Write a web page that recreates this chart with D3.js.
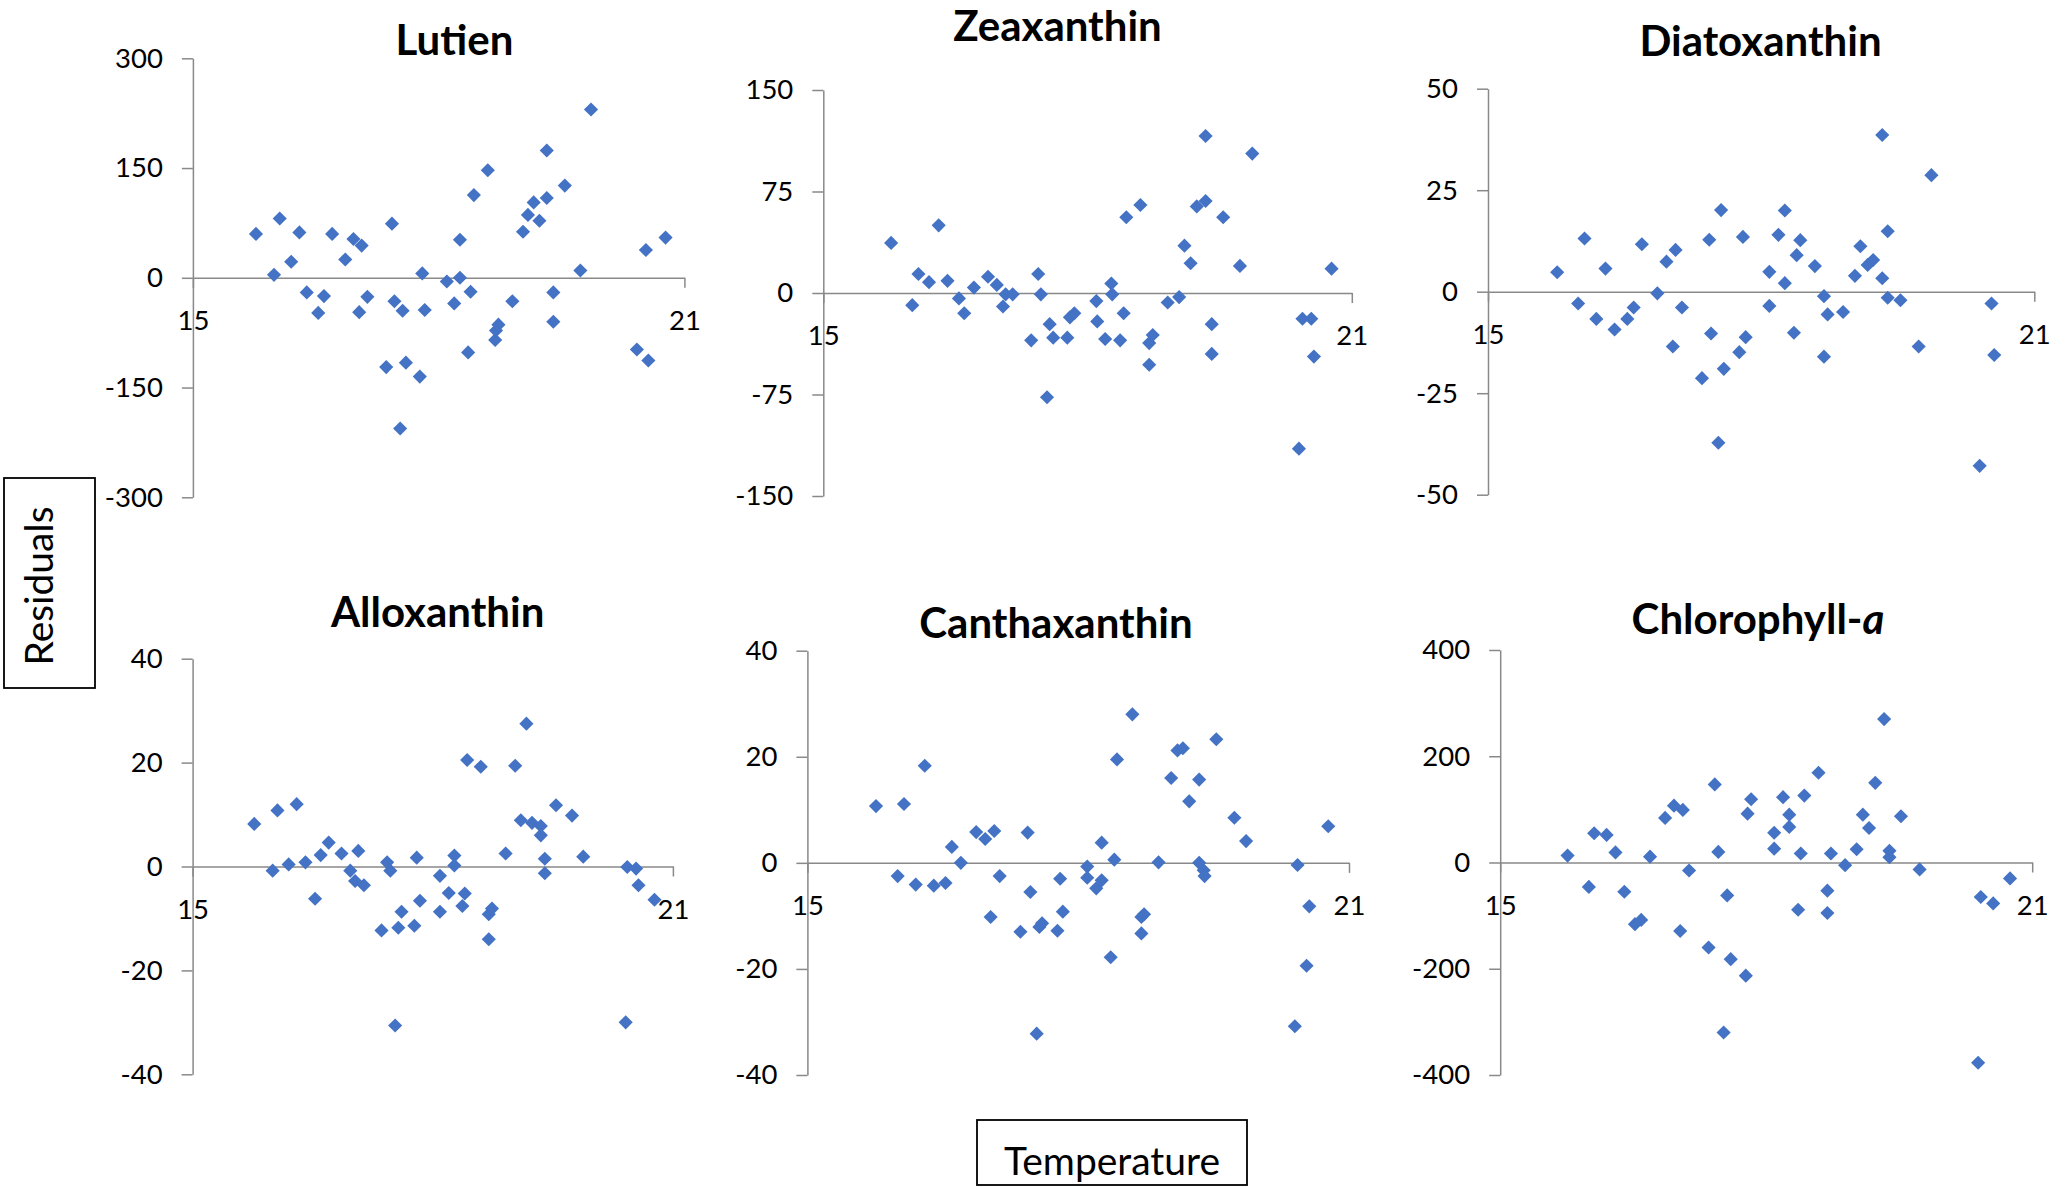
<!DOCTYPE html>
<html>
<head>
<meta charset="utf-8">
<script src="https://cdn.jsdelivr.net/npm/d3@7"></script>
<style>
  html, body { margin: 0; padding: 0; background: #ffffff; }
  svg { display: block; }
</style>
</head>
<body>
<svg id="chart" width="2067" height="1187"></svg>
<script>
// ---------------- DATA ----------------
const panelTitles = ["Lutien", "Zeaxanthin", "Diatoxanthin", "Alloxanthin", "Canthaxanthin", "Chlorophyll-"];
const xTickLabels = [15, 21];
const xAxisTitle = "Temperature";
const yAxisTitle = "Residuals";

const lutienTicks = [-300, -150, 0, 150, 300];
const zeaxanthinTicks = [-150, -75, 0, 75, 150];
const diatoxanthinTicks = [-50, -25, 0, 25, 50];
const alloxanthinTicks = [-40, -20, 0, 20, 40];
const canthaxanthinTicks = [-40, -20, 0, 20, 40];
const chlorophyllTicks = [-400, -200, 0, 200, 400];

const lutienT = [15.77,15.99,16.06,16.20,16.30,16.39,16.53,16.60,16.70,16.86,16.96,17.03,17.06,17.13,17.36,17.43,17.46,17.53,17.56,17.60,17.77,17.80,17.83,18.10,18.19,18.26,18.26,18.36,18.39,18.43,18.60,18.69,18.70,18.73,18.90,19.03,19.09,19.16,19.23,19.32,19.32,19.40,19.40,19.54,19.73,19.86,20.42,20.53,20.56,20.77];
const lutienR = [60,4,81,22,62,-20,-48,-25,60,25,53,-47,44,-26,-122,74,-32,-206,-45,-116,-135,6,-44,-5,-35,52,0,-102,-19,113,147,-85,-72,-64,-32,63,86,103,78,109,174,-20,-60,126,10,230,-98,38,-113,55];

const zeaxanthinT = [15.77,16.01,16.08,16.20,16.31,16.41,16.54,16.60,16.71,16.87,16.97,17.04,17.07,17.15,17.36,17.44,17.47,17.54,17.57,17.61,17.77,17.80,17.85,18.10,18.11,18.20,18.27,18.28,18.37,18.41,18.44,18.60,18.70,18.74,18.70,18.91,19.04,19.10,19.17,19.24,19.34,19.34,19.41,19.41,19.54,19.73,19.87,20.40,20.44,20.54,20.57,20.77];
const zeaxanthinR = [37,-9,14,8,50,9,-4,-15,4,12,6,-10,-1,-1,-35,14,-1,-77,-23,-33,-33,-18,-15,-6,-21,-34,7,-1,-35,-15,56,65,-37,-31,-53,-7,-3,35,22,64,68,116,-23,-45,56,20,103,-115,-19,-19,-47,18];

const diatoxanthinT = [15.76,15.99,16.06,16.19,16.29,16.39,16.53,16.60,16.69,16.86,16.96,17.03,17.06,17.13,17.35,17.43,17.45,17.53,17.56,17.59,17.76,17.80,17.83,18.09,18.09,18.19,18.26,18.26,18.36,18.39,18.43,18.59,18.69,18.69,18.73,18.90,19.03,19.09,19.17,19.23,19.33,19.33,19.39,19.39,19.53,19.73,19.87,20.40,20.53,20.56];
const diatoxanthinR = [4.8,-2.9,13.1,-6.7,5.7,-9.3,-6.7,-3.9,11.7,-0.4,7.4,-13.5,10.3,-3.9,-21.3,12.8,-10.3,-37.2,20.1,-19,-14.9,13.5,-11.2,4.9,-3.5,14,20,2.1,-10.1,9,12.7,6.3,-1.1,-16,-5.6,-5,3.9,11.2,6.6,7.8,3.3,38.6,-1.5,14.9,-2.1,-13.5,28.7,-42.9,-2.9,-15.6];

const alloxanthinT = [15.77,16.00,16.06,16.20,16.30,16.41,16.53,16.60,16.70,16.86,16.97,17.03,17.07,17.14,17.36,17.43,17.47,17.53,17.57,17.61,17.77,17.80,17.84,18.09,18.09,18.20,18.27,18.27,18.37,18.40,18.43,18.60,18.70,18.74,18.70,18.91,19.03,19.10,19.17,19.24,19.35,19.35,19.40,19.40,19.54,19.74,19.88,20.41,20.43,20.54,20.57,20.77];
const alloxanthinR = [8.2,-0.8,10.8,0.4,12,0.8,-6.2,2.2,4.6,2.5,-0.8,-2.8,3,-3.6,-12.3,0.8,-0.8,-30.6,-11.8,-8.7,-11.4,1.7,-6.6,-1.8,-8.7,-5.1,2.1,0.2,-7.6,-5.2,20.5,19.2,-9.2,-8.1,-14,2.5,19.4,8.9,27.5,8.4,7.8,6,1.5,-1.3,11.8,9.8,1.9,-30,-0.1,-0.4,-3.6,-6.4];

const canthaxanthinT = [15.76,16.00,16.07,16.20,16.30,16.40,16.53,16.60,16.70,16.87,16.97,17.03,17.07,17.13,17.36,17.44,17.47,17.54,17.57,17.60,17.77,17.80,17.83,18.10,18.10,18.20,18.26,18.26,18.36,18.40,18.43,18.60,18.70,18.70,18.73,18.89,19.03,19.10,19.16,19.23,19.34,19.34,19.39,19.40,19.53,19.73,19.86,20.40,20.43,20.53,20.56,20.77];
const canthaxanthinR = [10.7,-2.5,11.1,-4.1,18.3,-4.3,-3.8,3,0,5.8,4.5,-10.2,6,-2.5,-13,5.7,-5.5,-32.2,-12.1,-11.4,-12.8,-3,-9.2,-0.7,-2.8,-4.8,3.8,-3.3,-17.8,0.6,19.5,28,-13.3,-10.2,-9.7,0.1,16,21.2,21.6,11.6,15.7,0,-1.4,-2.5,23.3,8.5,4.1,-30.8,-0.4,-19.4,-8.2,6.9];

const chlorophyllT = [15.76,16.00,16.06,16.20,16.30,16.40,16.52,16.59,16.69,16.86,16.96,17.03,17.06,17.13,17.35,17.42,17.46,17.52,17.56,17.60,17.77,17.79,17.83,18.09,18.09,18.19,18.26,18.26,18.36,18.39,18.43,18.59,18.69,18.69,18.73,18.89,19.02,19.09,19.16,19.23,19.33,19.39,19.39,19.52,19.73,20.39,20.42,20.56,20.75];
const chlorophyllR = [13,-46,55,52,19,-55,-116,-108,11,84,107,-129,99,-15,-160,147,20,-320,-62,-182,-213,92,119,26,56,123,90,67,-89,17,126,169,-95,-53,17,-5,25,90,65,150,270,22,10,87,-13,-377,-65,-77,-30];

// ---------------- LAYOUT (positions & styles) ----------------
const layout = [
  {x0:192.9, x1:684.4, yTop:58.3, yBot:497.3, titleX:454.5, titleY:55},
  {x0:823.3, x1:1351.8, yTop:90, yBot:496, titleX:1057.5, titleY:41},
  {x0:1488, x1:2034.3, yTop:88.7, yBot:494.7, titleX:1760.5, titleY:56},
  {x0:192.6, x1:672.9, yTop:658.7, yBot:1074.3, titleX:437.7, titleY:627},
  {x0:807.4, x1:1349, yTop:650.7, yBot:1075, titleX:1056, titleY:638},
  {x0:1500.2, x1:2032.2, yTop:650, yBot:1075, titleX:1758, titleY:634}
];

const panels = [
  {title: panelTitles[0], ticks: lutienTicks, T: lutienT, R: lutienR},
  {title: panelTitles[1], ticks: zeaxanthinTicks, T: zeaxanthinT, R: zeaxanthinR},
  {title: panelTitles[2], ticks: diatoxanthinTicks, T: diatoxanthinT, R: diatoxanthinR},
  {title: panelTitles[3], ticks: alloxanthinTicks, T: alloxanthinT, R: alloxanthinR},
  {title: panelTitles[4], ticks: canthaxanthinTicks, T: canthaxanthinT, R: canthaxanthinR},
  {title: panelTitles[5], ticks: chlorophyllTicks, T: chlorophyllT, R: chlorophyllR, italicSuffix: "a"}
];

const FONT = "Lato, 'Open Sans', 'DejaVu Sans', sans-serif";
const AXIS_COLOR = "#898989";
const MARK_COLOR = "#4472C4";
const fmt = d => String(d);   // plain hyphen-minus like the original

const svg = d3.select("#chart");
svg.append("rect").attr("width", 2067).attr("height", 1187).attr("fill", "#ffffff");

const diamond = d3.symbol().type(d3.symbolSquare).size(100);

panels.forEach((p, i) => {
  const L = layout[i];
  const x = d3.scaleLinear().domain([xTickLabels[0], xTickLabels[1]]).range([L.x0, L.x1]);
  const y = d3.scaleLinear().domain([d3.min(p.ticks), d3.max(p.ticks)]).range([L.yBot, L.yTop]);
  const g = svg.append("g");

  // Y axis
  const ya = g.append("g")
    .attr("transform", `translate(${L.x0},0)`)
    .call(d3.axisLeft(y).tickValues(p.ticks).tickSize(11).tickSizeOuter(0).tickPadding(19).tickFormat(fmt));
  ya.select(".domain").attr("stroke", AXIS_COLOR).attr("stroke-width", 1.5);
  ya.selectAll(".tick line").attr("stroke", AXIS_COLOR).attr("stroke-width", 1.5);
  ya.selectAll(".tick text").attr("fill", "#000").style("font-family", FONT).style("font-size", "27.5px");

  // X axis at zero
  const xa = g.append("g")
    .attr("transform", `translate(0,${y(0)})`)
    .call(d3.axisBottom(x).tickValues(xTickLabels).tickSize(10).tickSizeOuter(0).tickFormat(fmt));
  xa.select(".domain").attr("stroke", AXIS_COLOR).attr("stroke-width", 1.5);
  xa.selectAll(".tick line").attr("stroke", AXIS_COLOR).attr("stroke-width", 1.5);
  xa.selectAll(".tick text").attr("fill", "#000").attr("y", 52).attr("dy", 0)
    .style("font-family", FONT).style("font-size", "27.5px");

  // Points
  const pts = p.T.map((t, k) => ({t: t, r: p.R[k]}));
  g.append("g").selectAll("path")
    .data(pts)
    .join("path")
    .attr("d", diamond)
    .attr("transform", d => `translate(${x(d.t)},${y(d.r)}) rotate(45)`)
    .attr("fill", MARK_COLOR);

  // Title
  const tt = g.append("text")
    .attr("x", L.titleX).attr("y", L.titleY)
    .attr("text-anchor", "middle")
    .style("font-family", FONT).style("font-size", "42px").style("font-weight", "bold")
    .attr("fill", "#000");
  tt.append("tspan").text(p.title);
  if (p.italicSuffix) tt.append("tspan").style("font-style", "italic").text(p.italicSuffix);
});

// Y axis title box
svg.append("rect").attr("x", 4).attr("y", 478).attr("width", 91).attr("height", 210)
  .attr("fill", "#fff").attr("stroke", "#000").attr("stroke-width", 1.8);
svg.append("text")
  .attr("transform", "translate(53,586) rotate(-90)")
  .attr("text-anchor", "middle")
  .style("font-family", FONT).style("font-size", "39px").attr("fill", "#000")
  .text(yAxisTitle);

// X axis title box
svg.append("rect").attr("x", 977).attr("y", 1120).attr("width", 270).attr("height", 65)
  .attr("fill", "#fff").attr("stroke", "#000").attr("stroke-width", 1.8);
svg.append("text")
  .attr("x", 1112).attr("y", 1175)
  .attr("text-anchor", "middle")
  .style("font-family", FONT).style("font-size", "39px").attr("fill", "#000")
  .text(xAxisTitle);
</script>
</body>
</html>
